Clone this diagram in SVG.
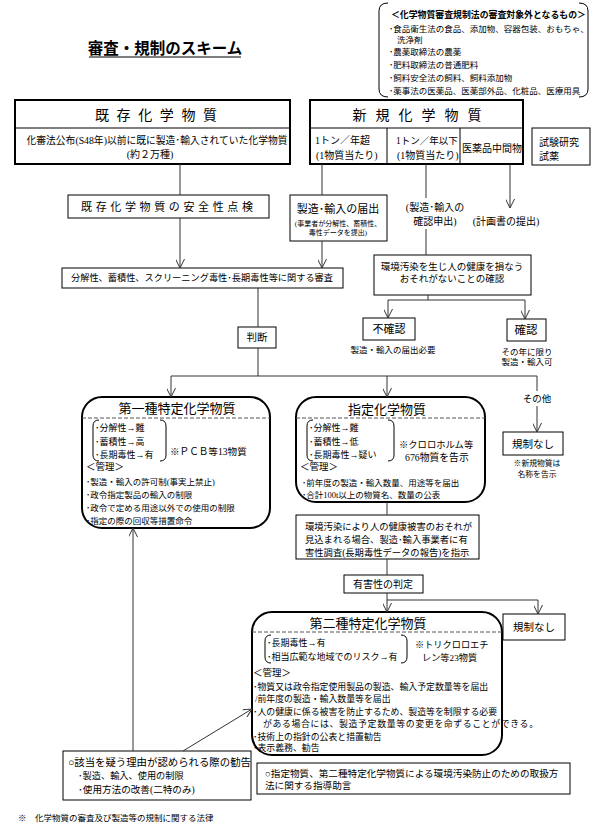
<svg xmlns="http://www.w3.org/2000/svg" width="600" height="830" viewBox="0 0 600 830">
<style>
text{font-family:"Liberation Serif","Noto Sans CJK JP",sans-serif;fill:#000}
.m{text-anchor:middle}
.bx{fill:#fff;stroke:#000;stroke-width:1}
.bb{fill:#fff;stroke:#000;stroke-width:2}
.ln{fill:none;stroke:#333;stroke-width:1}
.ar{fill:none;stroke:#333;stroke-width:1;marker-end:url(#v)}
.br{fill:none;stroke:#000;stroke-width:1}
.dash{stroke:#555;stroke-width:1;stroke-dasharray:4 2}
</style>
<defs>
<marker id="v" viewBox="0 0 10 10" refX="10" refY="5" markerWidth="9" markerHeight="9" markerUnits="userSpaceOnUse" orient="auto">
<path d="M0,0 L10,5 L0,10" fill="none" stroke="#333" stroke-width="1.1"/>
</marker>
</defs>
<rect width="600" height="830" fill="#fff"/>

<g id="title">
<text x="165" y="54" class="m" font-size="15.5" font-weight="bold">審査・規制のスキーム</text>
<line x1="89" y1="57" x2="241" y2="57" stroke="#000" stroke-width="1.2"/>
</g>

<g id="exempt">
<path class="br" d="M388,3 Q379,3 379,11 L379,89 Q379,97 388,97 M579,3 Q588,3 588,11 L588,89 Q588,97 579,97"/>
<text x="391" y="18" font-size="8.9" font-weight="bold">＜化学物質審査規制法の審査対象外となるもの＞</text>
<text x="389" y="32" font-size="8.5">･食品衛生法の食品、添加物、容器包装、おもちゃ、</text>
<text x="397" y="43" font-size="8.5">洗浄剤</text>
<text x="389" y="55" font-size="8.5">･農薬取締法の農薬</text>
<text x="389" y="68" font-size="8.5">･肥料取締法の普通肥料</text>
<text x="389" y="81" font-size="8.5">･飼料安全法の飼料、飼料添加物</text>
<text x="389" y="94" font-size="8.5">･薬事法の医薬品、医薬部外品、化粧品、医療用具</text>
</g>

<g id="existing">
<rect class="bb" x="15" y="100" width="275" height="64"/>
<line x1="15" y1="128" x2="290" y2="128" stroke="#000" stroke-width="1"/>
<text x="156" y="120" class="m" font-size="14" textLength="122" lengthAdjust="spacing">既 存 化 学 物 質</text>
<text x="157" y="144" class="m" font-size="10" textLength="261" lengthAdjust="spacingAndGlyphs">化審法公布(S48年)以前に既に製造･輸入されていた化学物質</text>
<text x="150" y="158" class="m" font-size="10">(約２万種)</text>
</g>

<g id="new">
<rect class="bb" x="310" y="100" width="213" height="64"/>
<line x1="310" y1="128" x2="523" y2="128" stroke="#000" stroke-width="1"/>
<line x1="387" y1="128" x2="387" y2="164" stroke="#000" stroke-width="1"/>
<line x1="460" y1="128" x2="460" y2="164" stroke="#000" stroke-width="1"/>
<text x="417" y="120" class="m" font-size="14" textLength="129" lengthAdjust="spacing">新 規 化 学 物 質</text>
<text x="315" y="144" font-size="10">1トン／年超</text>
<text x="316" y="159" font-size="10">(1物質当たり)</text>
<text x="396" y="144" font-size="9.5">1トン／年以下</text>
<text x="397" y="159" font-size="10">(1物質当たり)</text>
<text x="492" y="152" class="m" font-size="10">医薬品中間物</text>
</g>

<g id="research">
<rect class="bx" x="532" y="128" width="58" height="37"/>
<text x="539" y="146" font-size="10">試験研究</text>
<text x="539" y="160" font-size="10">試薬</text>
</g>

<g id="safety">
<rect class="bx" x="68" y="195" width="201" height="23"/>
<text x="167" y="211" class="m" font-size="11" textLength="172" lengthAdjust="spacing">既 存 化 学 物 質 の 安 全 性 点 検</text>
</g>

<g id="notify">
<rect class="bx" x="290" y="195" width="97" height="46"/>
<text x="338" y="213" class="m" font-size="11">製造･輸入の届出</text>
<text x="338" y="226" class="m" font-size="7">(事業者が分解性、蓄積性、</text>
<text x="338" y="235" class="m" font-size="7">毒性データを提出)</text>
</g>

<g id="confirm-req">
<text x="435" y="211" class="m" font-size="10">(製造･輸入の</text>
<text x="435" y="225" class="m" font-size="10">確認申出)</text>
</g>

<g id="plan">
<text x="506" y="225" class="m" font-size="10">(計画書の提出)</text>
</g>

<g id="review">
<rect class="bx" x="62" y="268" width="281" height="20"/>
<text x="202" y="281" class="m" font-size="9.5" textLength="262" lengthAdjust="spacingAndGlyphs">分解性、蓄積性、スクリーニング毒性･長期毒性等に関する審査</text>
</g>

<g id="envcheck">
<rect class="bx" x="374" y="255" width="157" height="40"/>
<text x="452" y="270" class="m" font-size="9.5">環境汚染を生じ人の健康を損なう</text>
<text x="452" y="282" class="m" font-size="9.5">おそれがないことの確認</text>
</g>

<g id="judge">
<rect class="bx" x="238" y="327" width="38" height="21"/>
<text x="257" y="341" class="m" font-size="10.5">判断</text>
</g>

<g id="unconfirmed">
<rect class="bx" x="363" y="318" width="52" height="22"/>
<text x="389" y="333" class="m" font-size="11">不確認</text>
<text x="393" y="353" class="m" font-size="8.5">製造・輸入の届出必要</text>
</g>

<g id="confirmed">
<rect class="bx" x="507" y="319" width="39" height="22"/>
<text x="526" y="334" class="m" font-size="11.5">確認</text>
<text x="527" y="355" class="m" font-size="8.5">その年に限り</text>
<text x="527" y="365" class="m" font-size="8.5">製造・輸入可</text>
</g>

<g id="type1">
<rect class="bb" x="82" y="397" width="188" height="131" rx="20"/>
<text x="177" y="413" class="m" font-size="13">第一種特定化学物質</text>
<line class="dash" x1="82" y1="418" x2="270" y2="418"/>
<path class="br" d="M99,420 Q93,420 93,426 L93,455 Q93,461 99,461 M160,420 Q166,420 166,426 L166,455 Q166,461 160,461"/>
<text x="95" y="431" font-size="9">･分解性→難</text>
<text x="95" y="445" font-size="9">･蓄積性→高</text>
<text x="95" y="458" font-size="9">･長期毒性→有</text>
<text x="170" y="455" font-size="9.6">※ＰＣＢ等13物質</text>
<text x="86" y="470" font-size="9.5">＜管理＞</text>
<text x="86" y="485" font-size="8.5">･製造・輸入の許可制(事実上禁止)</text>
<text x="86" y="498" font-size="8.5">･政令指定製品の輸入の制限</text>
<text x="86" y="511" font-size="8.5">･政令で定める用途以外での使用の制限</text>
<text x="86" y="524" font-size="8.5">･指定の際の回収等措置命令</text>
</g>

<g id="designated">
<rect class="bb" x="296" y="397" width="189" height="105" rx="20"/>
<text x="387" y="414" class="m" font-size="13">指定化学物質</text>
<line class="dash" x1="296" y1="418" x2="485" y2="418"/>
<path class="br" d="M313,420 Q307,420 307,426 L307,455 Q307,461 313,461 M388,420 Q394,420 394,426 L394,455 Q394,461 388,461"/>
<text x="309" y="431" font-size="9">･分解性→難</text>
<text x="309" y="445" font-size="9">･蓄積性→低</text>
<text x="309" y="458" font-size="9">･長期毒性→疑い</text>
<text x="399" y="448" font-size="9.3">※クロロホルム等</text>
<text x="405" y="461" font-size="9.8">676物質を告示</text>
<text x="300" y="470" font-size="9.5">＜管理＞</text>
<text x="302" y="486" font-size="8.5">･前年度の製造・輸入数量、用途等を届出</text>
<text x="302" y="498" font-size="8.5">･合計100t以上の物質名、数量の公表</text>
</g>

<g id="noreg1">
<text x="537" y="402" class="m" font-size="9.5">その他</text>
<rect class="bx" x="503" y="432" width="60" height="23"/>
<text x="533" y="448" class="m" font-size="10.5">規制なし</text>
<text x="537" y="466" class="m" font-size="7.8">※新規物質は</text>
<text x="537" y="477" class="m" font-size="7.8">名称を告示</text>
</g>

<g id="investigate">
<rect class="bx" x="296" y="515" width="183" height="44"/>
<text x="305" y="530" font-size="9.3">環境汚染により人の健康被害のおそれが</text>
<text x="305" y="543" font-size="9.3">見込まれる場合、製造･輸入事業者に有</text>
<text x="305" y="556" font-size="9.3">害性調査(長期毒性データの報告)を指示</text>
</g>

<g id="hazard">
<rect class="bx" x="344" y="575" width="79" height="18"/>
<text x="383" y="588" class="m" font-size="10">有害性の判定</text>
</g>

<g id="type2">
<rect class="bb" x="252" y="612" width="250" height="143" rx="20"/>
<text x="368" y="628" class="m" font-size="13">第二種特定化学物質</text>
<line class="dash" x1="252" y1="632" x2="502" y2="632"/>
<path class="br" d="M271,635 Q265,635 265,641 L265,657 Q265,663 271,663 M401,635 Q407,635 407,641 L407,657 Q407,663 401,663"/>
<text x="267" y="646" font-size="9">･長期毒性→有</text>
<text x="267" y="660" font-size="9">･相当広範な地域でのリスク→有</text>
<text x="415" y="648" font-size="9.2">※トリクロロエチ</text>
<text x="422" y="661" font-size="9.2">レン等23物質</text>
<text x="253" y="676" font-size="9.5">＜管理＞</text>
<text x="253" y="690" font-size="8.9">･物質又は政令指定使用製品の製造、輸入予定数量等を届出</text>
<text x="255" y="702" font-size="8.9">/前年度の製造・輸入数量等を届出</text>
<text x="253" y="715" font-size="8.9">･人の健康に係る被害を防止するため、製造等を制限する必要</text>
<text x="263" y="727" font-size="8.9" textLength="275" lengthAdjust="spacing">がある場合には、製造予定数量等の変更を命ずることができる。</text>
<text x="253" y="740" font-size="8.9">･技術上の指針の公表と措置勧告</text>
<text x="253" y="751" font-size="8.9">･表示義務、勧告</text>
</g>

<g id="noreg2">
<rect class="bx" x="503" y="614" width="62" height="26"/>
<text x="534" y="631" class="m" font-size="10.5">規制なし</text>
</g>

<g id="advice">
<rect class="bx" x="63" y="751" width="188" height="49"/>
<text x="68" y="766" font-size="10.4">○該当を疑う理由が認められる際の勧告</text>
<text x="78" y="779" font-size="9.2">･製造、輸入、使用の制限</text>
<text x="78" y="793" font-size="9.6">･使用方法の改善(二特のみ)</text>
</g>

<g id="guidance">
<rect class="bx" x="257" y="763" width="313" height="31"/>
<text x="265" y="777" font-size="9.6">○指定物質、第二種特定化学物質による環境汚染防止のための取扱方</text>
<text x="265" y="789" font-size="9.6">法に関する指導助言</text>
</g>

<g id="footnote">
<text x="18" y="821" font-size="8.5">※　化学物質の審査及び製造等の規制に関する法律</text>
</g>

<g id="connectors">
<line class="ln" x1="180" y1="164" x2="180" y2="195"/>
<line class="ar" x1="180" y1="218" x2="180" y2="268"/>
<line class="ln" x1="322" y1="164" x2="322" y2="195"/>
<line class="ar" x1="322" y1="241" x2="322" y2="268"/>
<line class="ln" x1="426" y1="164" x2="426" y2="198"/>
<line class="ln" x1="426" y1="229" x2="426" y2="255"/>
<line class="ar" x1="510" y1="164" x2="510" y2="208"/>
<line class="ln" x1="258" y1="288" x2="258" y2="327"/>
<line class="ln" x1="258" y1="348" x2="258" y2="376"/>
<line class="ln" x1="171" y1="376" x2="537" y2="376"/>
<line class="ar" x1="171" y1="376" x2="171" y2="397"/>
<line class="ar" x1="387" y1="376" x2="387" y2="397"/>
<line class="ln" x1="537" y1="376" x2="537" y2="391"/>
<line class="ar" x1="537" y1="406" x2="537" y2="432"/>
<line class="ln" x1="428" y1="295" x2="428" y2="300"/>
<line class="ln" x1="388" y1="300" x2="525" y2="300"/>
<line class="ar" x1="388" y1="300" x2="388" y2="318"/>
<line class="ar" x1="525" y1="300" x2="525" y2="319"/>
<line class="ln" x1="387" y1="502" x2="387" y2="515"/>
<line class="ln" x1="387" y1="559" x2="387" y2="575"/>
<line class="ar" x1="387" y1="593" x2="387" y2="612"/>
<polyline class="ar" points="387,600 538,600 538,614"/>
<line class="ar" x1="133" y1="751" x2="133" y2="528"/>
<line class="ar" x1="183" y1="751" x2="252" y2="709"/>
</g>
</svg>
